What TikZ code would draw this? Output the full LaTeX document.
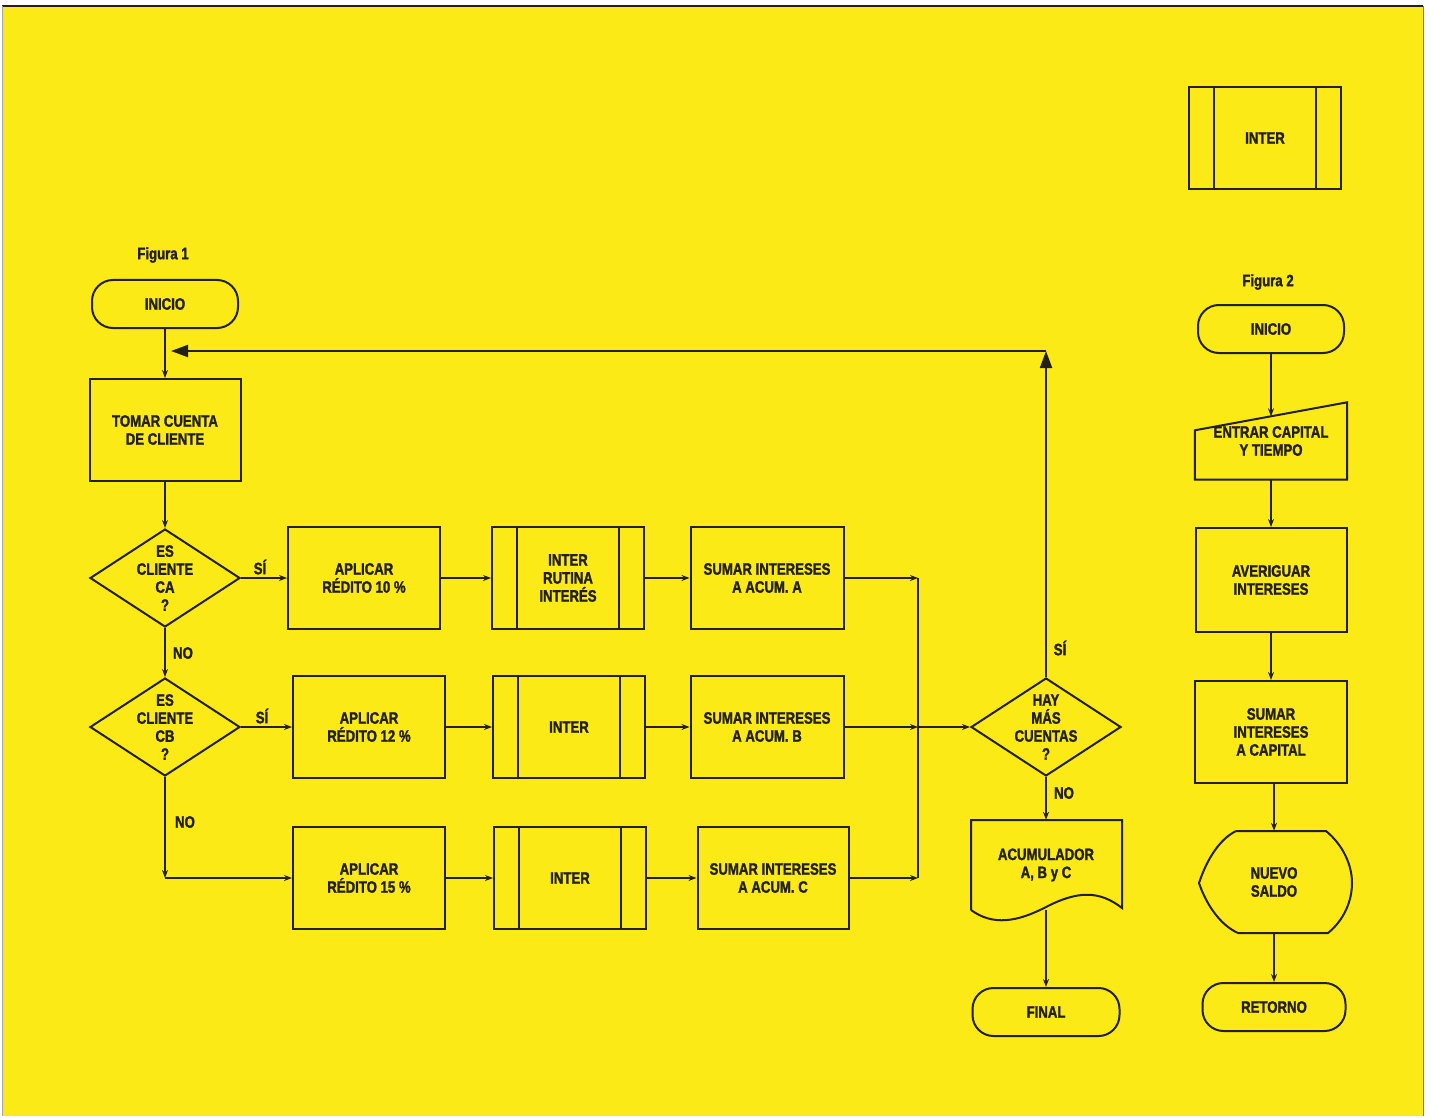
\documentclass[tikz,border=0pt]{standalone}
\usepackage{fontspec}
\setmainfont{Liberation Sans}[UprightFont={* Bold}, BoldFont={* Bold}, FakeStretch=0.8, FakeBold=1.6]
\usetikzlibrary{shapes.geometric,arrows.meta}
\definecolor{pagey}{RGB}{252,234,22}
\definecolor{ink}{RGB}{35,32,25}
\tikzset{
  every node/.style={font=\fontsize{16.5}{18}\selectfont, text=ink},
  box/.style={draw=ink, line width=2pt, rectangle, align=center, inner sep=0pt,
    minimum width=152pt, minimum height=102pt},
  term/.style={draw=ink, line width=2pt, rectangle, rounded corners=21pt, align=center,
    inner sep=0pt, minimum width=146pt, minimum height=48pt},
  decision/.style={draw=ink, line width=2pt, diamond, inner sep=0pt,
    minimum width=150pt, minimum height=98pt},
  subr/.style={box, path picture={
    \draw[ink, line width=2pt]
      ([xshift=25pt]path picture bounding box.north west) -- ([xshift=25pt]path picture bounding box.south west)
      ([xshift=-25pt]path picture bounding box.north east) -- ([xshift=-25pt]path picture bounding box.south east);}},
  bare/.style={rectangle, align=center, inner sep=0pt},
  flow/.style={draw=ink, line width=2pt, -{Stealth[length=8pt,width=6pt]}},
  bigflow/.style={draw=ink, line width=2pt, -{Triangle[length=17pt,width=12pt]}},
  link/.style={draw=ink, line width=2pt}
}

\begin{document}
\begin{tikzpicture}[x=1pt, y=-1pt]
\useasboundingbox (0,0) rectangle (1433,1118);
% Page
    \fill[white] (0,0) rectangle (1433,1118);
    \fill[pagey] (2,6) rectangle (1423,1116);
    \draw[ink, line width=2pt] (2,6) -- (1423,6);
    \draw[black!55, line width=0.8pt] (1423,6) -- (1423,1116);
    \draw[black!35, line width=0.8pt] (2,6) -- (2,1116);
% Figura 1: main column
    \node[bare] (fig1) at (163,255) {Figura 1};
    \node[term] (ini1) at (165,304) {INICIO};
    \node[box, minimum width=151pt] (toma) at (165,430) {TOMAR CUENTA\\DE CLIENTE};
    \node[decision, label={[align=center]center:ES\\CLIENTE\\CA\\?}] (ca) at (165,578) {};
    \node[decision, label={[align=center]center:ES\\CLIENTE\\CB\\?}] (cb) at (165,727) {};
% Figura 1: rows
    \node[box] (ap10) at (364,578) {APLICAR\\RÉDITO 10 \%};
    \node[box] (ap12) at (369,727) {APLICAR\\RÉDITO 12 \%};
    \node[box] (ap15) at (369,878) {APLICAR\\RÉDITO 15 \%};
    \node[subr] (in1) at (568,578) {INTER\\RUTINA\\INTERÉS};
    \node[subr] (in2) at (569,727) {INTER};
    \node[subr] (in3) at (570,878) {INTER};
    \node[box, minimum width=153pt] (suA) at (767,578) {SUMAR INTERESES\\A ACUM. A};
    \node[box, minimum width=153pt] (suB) at (767,727) {SUMAR INTERESES\\A ACUM. B};
    \node[box, minimum width=151pt] (suC) at (773,878) {SUMAR INTERESES\\A ACUM. C};
    \coordinate (mrgA) at (918,578);
    \coordinate (mrgB) at (918,727);
    \coordinate (mrgC) at (918,878);
% Figura 1: end column
    \node[decision, label={[align=center]center:HAY\\MÁS\\CUENTAS\\?}] (hay) at (1046,727) {};
    \node[bare, minimum width=151pt, minimum height=90pt] (acum) at (1046,865) {ACUMULADOR\\A, B y C};
    \draw[ink, line width=2pt] (971,910) -- (971,820) -- (1122,820) -- (1122,908)
      .. controls (1099,890) and (1077,891) .. (1046,907)
      .. controls (1017,922) and (993,926) .. (971,910);
    \node[term, minimum width=147pt] (fin) at (1046,1012) {FINAL};
    \coordinate (loopR) at (1046,351);
    \coordinate (loopL) at (171,351);
% Figura 1: labels
    \node[bare] (si1) at (260,567) {SÍ};
    \node[bare] (si2) at (262,716) {SÍ};
    \node[bare] (si3) at (1060,648) {SÍ};
    \node[bare] (no1) at (183,653) {NO};
    \node[bare] (no2) at (185,822) {NO};
    \node[bare] (no3) at (1064,793) {NO};
% Figura 1: connectors
    \draw[flow] (ini1) -- (toma);
    \draw[flow] (toma) -- (ca);
    \draw[flow] (ca) -- (cb);
    \draw[flow] (ca) -- (ap10);
    \draw[flow] (cb) -- (ap12);
    \draw[flow] (cb.south) -- (cb.south |- ap15.west);
    \draw[flow] (cb.south |- ap15.west) -- (ap15.west);
    \draw[flow] (ap10) -- (in1);
    \draw[flow] (ap12) -- (in2);
    \draw[flow] (ap15) -- (in3);
    \draw[flow] (in1) -- (suA);
    \draw[flow] (in2) -- (suB);
    \draw[flow] (in3) -- (suC);
    \draw[flow] (suA.east) -- (mrgA);
    \draw[flow] (suB.east) -- (mrgB);
    \draw[flow] (suC.east) -- (mrgC);
    \draw[link] (mrgA) -- (mrgC);
    \draw[flow] (mrgB) -- (hay.west);
    \draw[bigflow] (hay.north) -- (loopR);
    \draw[bigflow] (loopR) -- (loopL);
    \draw[flow] (hay.south) -- (acum.north);
    \draw[flow] (acum.south) -- (fin.north);
% Figura 2
    \node[subr] (inter) at (1265,138) {INTER};
    \node[bare] (fig2) at (1268,282) {Figura 2};
    \node[term] (ini2) at (1271,329) {INICIO};
    \node[bare, minimum width=152pt, minimum height=77pt] (entrar) at (1271,441) {ENTRAR CAPITAL\\Y TIEMPO};
    \draw[ink, line width=2pt] (entrar.south west) -- ([yshift=-28pt]entrar.north west)
      -- (entrar.north east) -- (entrar.south east) -- cycle;
    \node[box, minimum width=151pt, minimum height=104pt] (aver) at (1271,580) {AVERIGUAR\\INTERESES};
    \node[box] (sucap) at (1271,732) {SUMAR\\INTERESES\\A CAPITAL};
    \node[bare, minimum width=153pt, minimum height=102pt] (saldo) at (1274,882) {NUEVO\\SALDO};
    \draw[ink, line width=2pt] (1236,831) -- (1326,831)
      .. controls (1344,846) and (1352,866) .. (1352,883)
      .. controls (1352,901) and (1344,920) .. (1328,933) -- (1238,933)
      .. controls (1220,925) and (1206,904) .. (1199,883)
      .. controls (1206,862) and (1218,840) .. (1236,831);
    \node[term, minimum width=143pt] (ret) at (1274,1007) {RETORNO};
    \draw[flow] (ini2.south) -- ([yshift=-14pt]entrar.north);
    \draw[flow] (entrar.south) -- (aver.north);
    \draw[flow] (aver.south) -- (sucap.north);
    \draw[flow] (sucap.south -| saldo.north) -- (saldo.north);
    \draw[flow] (saldo.south) -- (ret.north);
\end{tikzpicture}
\end{document}
